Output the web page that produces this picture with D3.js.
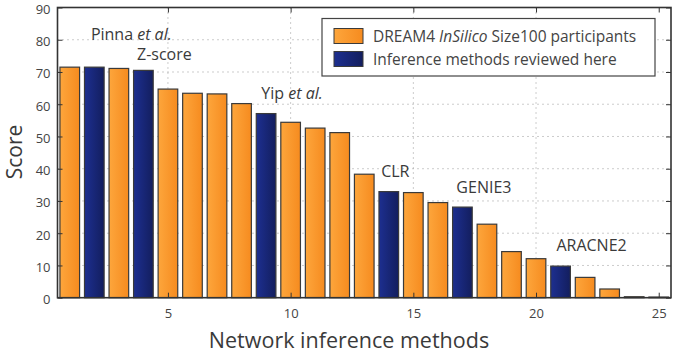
<!DOCTYPE html>
<html><head><meta charset="utf-8">
<script src="https://cdn.jsdelivr.net/npm/d3@7"></script>
<style>body{margin:0;background:#fff}svg{display:block}</style>
</head><body><svg id="c" width="678" height="357"></svg>
<script>
const methods = d3.range(1, 26);
const scores = [71.5,71.5,71.1,70.5,64.7,63.4,63.2,60.2,57.1,54.4,52.6,51.2,38.3,32.9,32.6,29.5,28.1,22.8,14.3,12.1,9.8,6.3,2.7,0.3,0.2];
const reviewed = [0,1,0,1,0,0,0,0,1,0,0,0,0,1,0,0,1,0,0,0,1,0,0,0,0];
const xTicks = [5,10,15,20,25];
const yTicks = [0,10,20,30,40,50,60,70,80,90];
const annotations = [
  {i:2, text:"Pinna ", it:"et al.", dx:37, v:80.0},
  {i:4, text:"Z-score", it:"", dx:21, v:73.7},
  {i:9, text:"Yip ", it:"et al.", dx:26, v:61.6},
  {i:14, text:"CLR", it:"", dx:6.5, v:37.4},
  {i:17, text:"GENIE3", it:"", dx:21.5, v:32.4},
  {i:21, text:"ARACNE2", it:"", dx:31, v:14.6}
];
const legendLabels = [["DREAM4 ", "InSilico", " Size100 participants"], ["Inference methods reviewed here", "", ""]];

const svg = d3.select("#c");
const m = {l:57.5, r:671, t:7.5, b:297.7};
const x = d3.scaleLinear().domain([0.5,25.5]).range([m.l, m.r]);
const y = d3.scaleLinear().domain([0,90]).range([m.b, m.t]);
const font = "'Open Sans', 'Noto Sans', sans-serif";

const defs = svg.append("defs");
function grad(id, c1, c2){
  const g = defs.append("linearGradient").attr("id", id).attr("x1","0").attr("x2","1").attr("y1","0").attr("y2","0");
  g.append("stop").attr("offset","0").attr("stop-color",c1);
  g.append("stop").attr("offset","1").attr("stop-color",c2);
}
grad("go", "#fda63c", "#f68b1f");
grad("gb", "#1d2f90", "#131e5e");

// grid
const g = svg.append("g");
g.selectAll(".gx").data(xTicks.filter(d=>d<25)).enter().append("line")
  .attr("x1", d=>x(d)).attr("x2", d=>x(d)).attr("y1", m.t).attr("y2", m.b)
  .attr("stroke", "#999").attr("stroke-width", 1).attr("stroke-dasharray", "1,4");
g.selectAll(".gy").data(yTicks.filter(d=>d>0 && d<90)).enter().append("line")
  .attr("x1", m.l).attr("x2", m.r).attr("y1", d=>y(d)).attr("y2", d=>y(d))
  .attr("stroke", "#999").attr("stroke-width", 1).attr("stroke-dasharray", "1,4");

// bars
const bw = (x(1)-x(0))*0.8;
svg.append("g").selectAll("rect").data(methods).enter().append("rect")
  .attr("x", (d)=>x(d)-bw/2).attr("width", bw)
  .attr("y", (d,i)=>y(scores[i])).attr("height", (d,i)=>y(0)-y(scores[i]))
  .attr("fill", (d,i)=>reviewed[i] ? "url(#gb)" : "url(#go)")
  .attr("stroke", "#3a3a3a").attr("stroke-width", 1.2);

// axes
const ax = svg.append("g").attr("transform", `translate(0,${m.b})`).call(d3.axisBottom(x).tickValues(xTicks).tickSize(-5).tickPadding(11));
const ay = svg.append("g").attr("transform", `translate(${m.l},0)`).call(d3.axisLeft(y).tickValues(yTicks).tickSize(-5).tickPadding(7));
const axt = svg.append("g").attr("transform", `translate(0,${m.t})`).call(d3.axisTop(x).tickValues(xTicks).tickSize(-5).tickFormat(""));
const ayr = svg.append("g").attr("transform", `translate(${m.r},0)`).call(d3.axisRight(y).tickValues(yTicks).tickSize(-5).tickFormat(""));
[ax, ay, axt, ayr].forEach(a => {
  a.select(".domain").remove();
  a.selectAll("line").attr("stroke", "#333");
  a.selectAll("text").attr("font-family", font).attr("font-size", 13).attr("fill", "#444");
});
ay.selectAll("text").attr("dy", "0.45em");
svg.append("rect").attr("x", m.l).attr("y", m.t).attr("width", m.r-m.l).attr("height", m.b-m.t)
  .attr("fill", "none").attr("stroke", "#333").attr("stroke-width", 1.6);

// labels
svg.append("text").attr("x", 349).attr("y", 348).attr("text-anchor","middle")
  .attr("font-family", font).attr("font-size", 21.5).attr("fill", "#3a3a3a").text("Network inference methods");
svg.append("text").attr("transform", "translate(22,152) rotate(-90)").attr("text-anchor","middle")
  .attr("font-family", font).attr("font-size", 21).attr("fill", "#3a3a3a").text("Score");

// annotations
annotations.forEach(a => {
  const t = svg.append("text").attr("x", x(a.i)+a.dx).attr("y", y(a.v)).attr("text-anchor","middle")
    .attr("font-family", font).attr("font-size", 16).attr("fill", "#3a3a3a");
  t.append("tspan").text(a.text);
  if (a.it) t.append("tspan").attr("font-style","italic").text(a.it);
});

// legend
svg.append("rect").attr("x", 322).attr("y", 18.5).attr("width", 333).attr("height", 57.5)
  .attr("fill", "#fff").attr("stroke", "#444").attr("stroke-width", 1.2);
const lf = ["url(#go)", "url(#gb)"];
legendLabels.forEach((lab, k) => {
  const yy = 28.5 + k*23;
  svg.append("rect").attr("x", 334).attr("y", yy).attr("width", 29).attr("height", 15)
    .attr("fill", lf[k]).attr("stroke", "#3a3a3a").attr("stroke-width", 1);
  const t = svg.append("text").attr("x", 373).attr("y", yy+13)
    .attr("font-family", font).attr("font-size", 15.5).attr("fill", "#444");
  t.append("tspan").text(lab[0]);
  if (lab[1]) t.append("tspan").attr("font-style","italic").text(lab[1]);
  if (lab[2]) t.append("tspan").text(lab[2]);
});
</script></body></html>
